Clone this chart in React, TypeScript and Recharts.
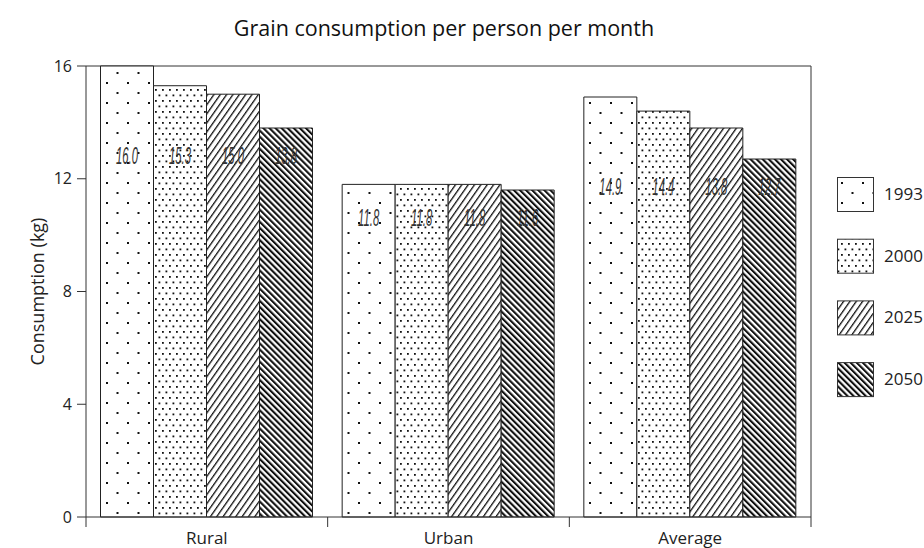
import React from 'react';
import { BarChart, Bar, XAxis, YAxis, LabelList, CartesianGrid } from 'recharts';

const categories = ['Rural', 'Urban', 'Average'];
const years = ['1993', '2000', '2025', '2050'];
const v1993 = [16.0, 11.8, 14.9];
const v2000 = [15.3, 11.8, 14.4];
const v2025 = [15.0, 11.8, 13.8];
const v2050 = [13.8, 11.6, 12.7];
const yTicks = [0, 4, 8, 12, 16];
const title = 'Grain consumption per person per month';
const yLabel = 'Consumption (kg)';

const series = [v1993, v2000, v2025, v2050];
const data = categories.map((c, i) => {
  const row: any = { category: c };
  years.forEach((yr, k) => {
    row['y' + yr] = series[k][i];
  });
  return row;
});

const W = 924;
const H = 548;
const X_AXIS_H = 31;
const PLOT_LEFT = 86;
const PLOT_RIGHT = 811;
const PLOT_TOP = 66;
const FONT = '"Open Sans", "Noto Sans", sans-serif';
const LINE = '#333';

const ValueLabel = (props: any) => {
  const { x, y, width, height, value, index } = props;
  const v = Number(value);
  const gmin = typeof index === 'number' ? Math.min(...series.map((s) => s[index])) : v;
  const ppu = height / v;
  const ly = y + height - (gmin - 1) * ppu;
  const cx = x + width / 2;
  return (
    <text
      transform={`translate(${cx},${ly + 8}) scale(0.49,1)`}
      textAnchor="middle"
      fontSize={23}
      fontStyle="italic"
      fontFamily='"Liberation Sans", Arial, sans-serif'
      fill="#333"
    >
      {v.toFixed(1)}
    </text>
  );
};

const XTick = (props: any) => {
  const { x, payload, index, visibleTicksCount, width } = props;
  const n = visibleTicksCount || categories.length;
  const half = typeof payload?.offset === 'number' && payload.offset > 0 ? payload.offset : width / n / 2;
  const axisY = H - X_AXIS_H;
  const last = index === n - 1;
  return (
    <g>
      <line x1={x - half} x2={x - half} y1={axisY} y2={axisY + 10} stroke={LINE} strokeWidth={1} />
      {last && <line x1={x + half} x2={x + half} y1={axisY} y2={axisY + 10} stroke={LINE} strokeWidth={1} />}
      <text x={x} y={axisY + 27} textAnchor="middle" fontSize={17} fill="#222" fontFamily={FONT}>
        {payload.value}
      </text>
    </g>
  );
};

const Patterns = () => (
  <defs>
    <pattern id="pat1993" patternUnits="userSpaceOnUse" width="21" height="20">
      <rect width="21" height="20" fill="#fff" />
      <rect x="1" y="2" width="2" height="2" fill="#111" />
      <rect x="11.5" y="12" width="2" height="2" fill="#111" />
    </pattern>
    <pattern id="pat2000" patternUnits="userSpaceOnUse" width="7" height="11">
      <rect width="7" height="11" fill="#fff" />
      <rect x="1" y="1" width="1.8" height="1.8" fill="#111" />
      <rect x="4.5" y="6.5" width="1.8" height="1.8" fill="#111" />
    </pattern>
    <pattern id="pat2025" patternUnits="userSpaceOnUse" width="5.2" height="10" patternTransform="rotate(35)">
      <rect width="5.2" height="10" fill="#fff" />
      <rect x="0" y="0" width="1.3" height="10" fill="#111" />
    </pattern>
    <pattern id="pat2050" patternUnits="userSpaceOnUse" width="4.3" height="10" patternTransform="rotate(-45)">
      <rect width="4.3" height="10" fill="#fff" />
      <rect x="0" y="0" width="2.1" height="10" fill="#111" />
    </pattern>
  </defs>
);

export default function App() {
  return (
    <div style={{ position: 'absolute', left: 0, top: 0, width: W, height: H, background: '#fff', fontFamily: FONT }}>
      <svg width={0} height={0} style={{ position: 'absolute' }}>
        <Patterns />
      </svg>
      <BarChart
        width={W}
        height={H}
        data={data}
        margin={{ top: PLOT_TOP, right: W - PLOT_RIGHT, bottom: 0, left: 0 }}
        barCategoryGap="6%"
        barGap={0}
      >
        <CartesianGrid
          xAxisId="main"
          yAxisId="main"
          stroke={LINE}
          strokeOpacity={1}
          horizontalCoordinatesGenerator={(p: any) => [p.offset.top]}
          verticalCoordinatesGenerator={(p: any) => [p.offset.left + p.offset.width]}
        />
        <XAxis
          dataKey="category"
          xAxisId="main"
          height={X_AXIS_H}
          tick={<XTick />}
          tickLine={false}
          axisLine={{ stroke: LINE }}
          interval={0}
        />
        <YAxis
          yAxisId="main"
          width={PLOT_LEFT}
          domain={[0, 16]}
          ticks={yTicks}
          tickSize={9}
          tickMargin={5}
          tick={{ fontSize: 16, fill: '#222' }}
          axisLine={{ stroke: LINE }}
          tickLine={{ stroke: LINE }}
        />
        {years.map((yr) => (
          <Bar
            key={yr}
            dataKey={'y' + yr}
            name={yr}
            xAxisId="main"
            yAxisId="main"
            fill={`url(#pat${yr})`}
            stroke="#222"
            strokeWidth={1}
            isAnimationActive={false}
          >
            <LabelList dataKey={'y' + yr} content={<ValueLabel />} />
          </Bar>
        ))}
      </BarChart>
      <svg width={W} height={H} style={{ position: 'absolute', left: 0, top: 0, pointerEvents: 'none' }}>
        <text x={444} y={36} textAnchor="middle" fontSize={21.5} fill="#111" fontFamily={FONT}>
          {title}
        </text>
        <text transform="translate(44,291.5) rotate(-90)" textAnchor="middle" fontSize={18} fill="#222" fontFamily={FONT}>
          {yLabel}
        </text>
        {years.map((yr, i) => {
          const y0 = 177 + i * 61.7;
          return (
            <g key={yr}>
              <rect x={837.5} y={y0 + 0.5} width={36} height={34} fill={`url(#pat${yr})`} stroke={LINE} strokeWidth={1} />
              <text x={884} y={y0 + 23} fontSize={17} fill="#222" fontFamily={FONT}>
                {yr}
              </text>
            </g>
          );
        })}
      </svg>
    </div>
  );
}
